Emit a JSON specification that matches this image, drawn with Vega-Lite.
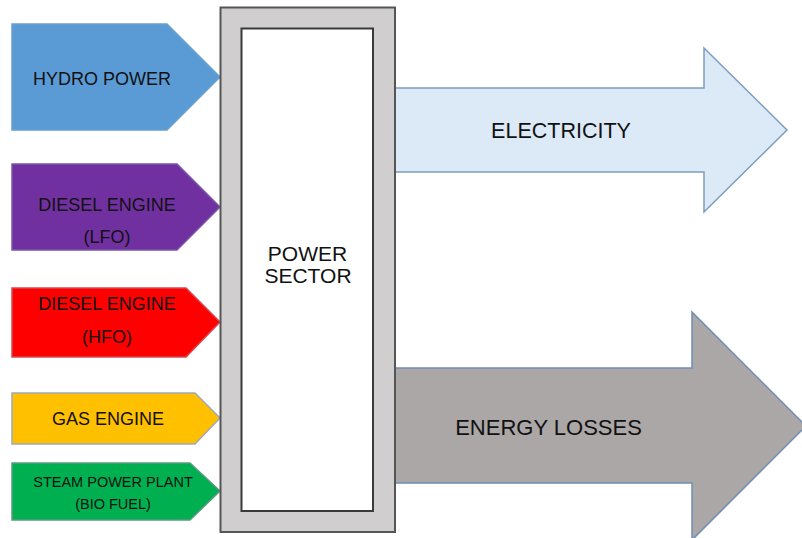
{
  "$schema": "https://vega.github.io/schema/vega-lite/v6.json",
  "width": 802,
  "height": 538,
  "autosize": {"type": "fit", "contains": "padding"},
  "padding": 0,
  "background": "white",
  "config": {"view": {"stroke": null}},
  "resolve": {"scale": {"fill": "independent", "stroke": "independent", "size": "independent"}},
  "datasets": {
    "shapes": [
      {"shape": "hydro", "x": 12, "y": 24, "y2": 130},
      {"shape": "hydro", "x": 167, "y": 24, "y2": 130},
      {"shape": "hydro", "x": 220, "y": 77, "y2": 77},
      {"shape": "lfo", "x": 12, "y": 164, "y2": 250},
      {"shape": "lfo", "x": 177, "y": 164, "y2": 250},
      {"shape": "lfo", "x": 220, "y": 207, "y2": 207},
      {"shape": "hfo", "x": 12, "y": 288, "y2": 357},
      {"shape": "hfo", "x": 186, "y": 288, "y2": 357},
      {"shape": "hfo", "x": 220, "y": 322, "y2": 322},
      {"shape": "gas", "x": 12, "y": 393, "y2": 444},
      {"shape": "gas", "x": 195, "y": 393, "y2": 444},
      {"shape": "gas", "x": 220, "y": 418, "y2": 418},
      {"shape": "steam", "x": 12, "y": 463, "y2": 520},
      {"shape": "steam", "x": 190, "y": 463, "y2": 520},
      {"shape": "steam", "x": 220, "y": 491, "y2": 491},
      {"shape": "electricity", "x": 395, "y": 88, "y2": 172},
      {"shape": "electricity", "x": 704, "y": 88, "y2": 172},
      {"shape": "electricity", "x": 704.01, "y": 48, "y2": 212},
      {"shape": "electricity", "x": 787, "y": 130, "y2": 130},
      {"shape": "losses", "x": 395, "y": 368, "y2": 483},
      {"shape": "losses", "x": 692, "y": 368, "y2": 483},
      {"shape": "losses", "x": 692.01, "y": 312, "y2": 540},
      {"shape": "losses", "x": 806, "y": 426, "y2": 426}
    ],
    "boxes": [
      {"box": "outer", "x": 220.5, "x2": 395, "y": 7.5, "y2": 532},
      {"box": "inner", "x": 241.5, "x2": 373, "y": 28.5, "y2": 511}
    ],
    "labels": [
      {"label": "HYDRO POWER", "kind": "a", "x": 102, "y": 80},
      {"label": "DIESEL ENGINE", "kind": "a", "x": 107, "y": 205.5},
      {"label": "(LFO)", "kind": "a", "x": 107, "y": 238},
      {"label": "DIESEL ENGINE", "kind": "a", "x": 107, "y": 305},
      {"label": "(HFO)", "kind": "a", "x": 107, "y": 338},
      {"label": "GAS ENGINE", "kind": "a", "x": 108, "y": 419.5},
      {"label": "STEAM POWER PLANT", "kind": "b", "x": 113, "y": 482.5},
      {"label": "(BIO FUEL)", "kind": "b", "x": 113, "y": 504.5},
      {"label": "POWER", "kind": "c", "x": 307.5, "y": 254.5},
      {"label": "SECTOR", "kind": "c", "x": 308, "y": 277},
      {"label": "ELECTRICITY", "kind": "d", "x": 561, "y": 132},
      {"label": "ENERGY LOSSES", "kind": "e", "x": 548.5, "y": 428}
    ]
  },
  "layer": [
    {
      "data": {"name": "shapes"},
      "mark": {"type": "area", "strokeWidth": 1.5, "clip": true, "interpolate": "linear", "fillOpacity": 1},
      "encoding": {
        "x": {"field": "x", "type": "quantitative", "scale": {"domain": [0, 802]}, "axis": null},
        "y": {"field": "y", "type": "quantitative", "scale": {"domain": [538, 0]}, "axis": null},
        "y2": {"field": "y2"},
        "detail": {"field": "shape"},
        "fill": {
          "field": "shape", "type": "nominal", "legend": null,
          "scale": {
            "domain": ["hydro", "lfo", "hfo", "gas", "steam", "electricity", "losses"],
            "range": ["#5b9bd5", "#7030a0", "#fe0000", "#ffc000", "#00b050", "#dce9f6", "#aba7a7"]
          }
        },
        "stroke": {
          "field": "shape", "type": "nominal", "legend": null,
          "scale": {
            "domain": ["hydro", "lfo", "hfo", "gas", "steam", "electricity", "losses"],
            "range": ["#6a9fd0", "#7b55a8", "#d9464f", "#a0a8b8", "#5a9a80", "#7d9cbf", "#6f8db2"]
          }
        }
      }
    },
    {
      "data": {"name": "boxes"},
      "mark": {"type": "rect", "strokeWidth": 2},
      "encoding": {
        "x": {"field": "x", "type": "quantitative", "scale": {"domain": [0, 802]}, "axis": null},
        "x2": {"field": "x2"},
        "y": {"field": "y", "type": "quantitative", "scale": {"domain": [538, 0]}, "axis": null},
        "y2": {"field": "y2"},
        "fill": {
          "field": "box", "type": "nominal", "legend": null,
          "scale": {"domain": ["outer", "inner"], "range": ["#d0cece", "#ffffff"]}
        },
        "stroke": {
          "field": "box", "type": "nominal", "legend": null,
          "scale": {"domain": ["outer", "inner"], "range": ["#555555", "#3a3a3a"]}
        }
      }
    },
    {
      "data": {"name": "labels"},
      "mark": {"type": "text", "font": "Liberation Sans", "baseline": "middle", "align": "center", "color": "#111111"},
      "encoding": {
        "x": {"field": "x", "type": "quantitative", "scale": {"domain": [0, 802]}, "axis": null},
        "y": {"field": "y", "type": "quantitative", "scale": {"domain": [538, 0]}, "axis": null},
        "text": {"field": "label"},
        "size": {
          "field": "kind", "type": "nominal", "legend": null,
          "scale": {"type": "ordinal", "domain": ["a", "b", "c", "d", "e"], "range": [18, 14.5, 21, 21.5, 22]}
        }
      }
    }
  ]
}
